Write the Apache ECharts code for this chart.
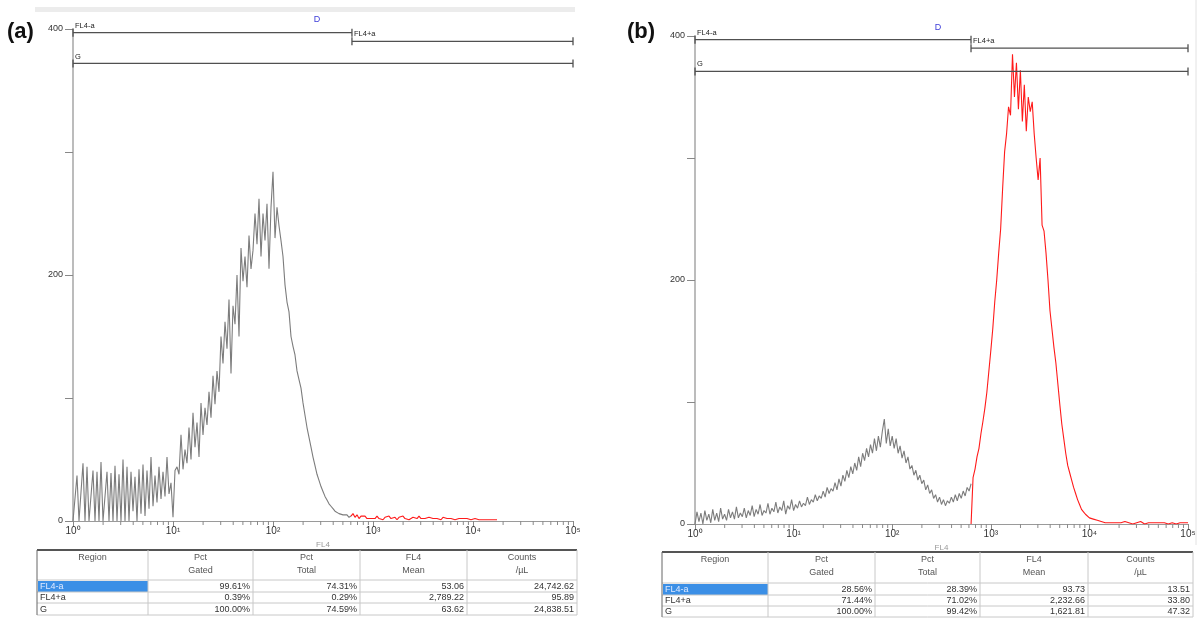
<!DOCTYPE html>
<html><head><meta charset="utf-8">
<script src="https://cdn.jsdelivr.net/npm/echarts@6/dist/echarts.min.js"></script>
<style>html,body{margin:0;padding:0;background:#fff}#c{width:1200px;height:621px}</style>
</head><body><div id="c"></div>
<script>
// ---------- data ----------
const binsPerDecade = 50;            // histogram channels per decade of FL4
const decadeTicks = [1, 10, 100, 1000, 10000, 100000];
const decadeLabels = ['10⁰', '10¹', '10²', '10³', '10⁴', '10⁵'];
const yTicks = [0, 100, 200, 300, 400];

// Panel (a) counts per channel (channel 0 = 10^0)
const grayAStart = 0;
const grayA = [0,0,37,0,0,47,0,44,0,0, 41,0,40,0,48,0,0,40,0,39, 0,45,0,38,0,50,0,44,0,40, 8,36,0,42,6,46,4,41,10,52, 12,37,15,44,18,40,20,52,22,31,
  3,41,44,38,70,42,58,47,76,50, 88,60,80,52,96,70,92,78,105,84, 118,95,122,105,150,128,162,140,180,120, 175,160,200,150,222,195,215,190,232,205, 220,250,225,262,215,250,228,258,205,255,
  284,230,255,240,228,215,192,178,170,150, 142,135,122,115,108,96,86,76,68,60, 52,45,38,33,28,24,20,17,14,12, 10,8,7,6,5,5,4,5,3,4];
const redAStart = 139;
const redA = [4, 6,3,5,2,4,3,4,2,3,2,
  3,2,4,2,3,1,3,2,4,2, 2,3,1,3,2,4,2,3,1,2, 3,2,2,4,2,3,2,1,3,2, 2,3,2,2,1,3,2,2,1,2, 2,1,2,2,1,2,1,2,1,1,
  1,2,1,1,2,1,1,1,2,1,1,1,1];

// Panel (b)
const grayBStart = 0;
const grayB = [0,10,2,9,0,11,3,8,1,12, 3,9,2,13,4,8,3,12,5,10, 4,14,5,9,6,13,5,11,7,15, 6,12,8,16,7,11,9,17,8,13, 10,18,9,14,11,19,8,15,12,20,
  11,16,13,19,14,17,15,22,16,20, 18,24,19,23,21,27,22,30,25,29, 27,34,28,37,31,40,35,44,38,47, 41,50,44,55,47,58,52,62,55,65, 58,70,60,72,63,76,86,66,78,64,
  72,62,70,58,64,54,60,50,55,45, 48,40,44,36,40,33,36,28,32,25, 28,21,24,18,22,16,20,15,19,17, 22,18,24,19,25,21,27,23,30,27, 33];
const redBStart = 140;
const redB = [0,38,45,55,62,74,84,95,108,125,
  142,160,182,200,222,242,275,305,320,342, 335,385,350,378,340,372,330,360,322,350, 338,346,320,300,282,300,245,240,222,200, 175,160,145,132,115,98,82,70,58,48, 42,36,30,25,20,16,12,10,8,7,
  5,5,4,3,3,2,2,2,1,2, 1,1,1,2,1,0,1,1,2,1, 1,1,0,1,1,1,2,1,0,1, 1,1,1,0,1,1,1,2,1,1, 0,1,1,1,0,1,1,1,1,2,1];

// gate regions [name, from, to, level]
const gatesA = [['FL4-a', 1, 616, 397], ['FL4+a', 616, 100000, 390], ['G', 1, 100000, 372]];
const gatesB = [['FL4-a', 1, 630, 397], ['FL4+a', 630, 100000, 390], ['G', 1, 100000, 371]];

// statistics tables
const tableHeader = [['Region'], ['Pct', 'Gated'], ['Pct', 'Total'], ['FL4', 'Mean'], ['Counts', '/µL']];
const rowsA = [['FL4-a', '99.61%', '74.31%', '53.06', '24,742.62'],
               ['FL4+a', '0.39%', '0.29%', '2,789.22', '95.89'],
               ['G', '100.00%', '74.59%', '63.62', '24,838.51']];
const rowsB = [['FL4-a', '28.56%', '28.39%', '93.73', '13.51'],
               ['FL4+a', '71.44%', '71.02%', '2,232.66', '33.80'],
               ['G', '100.00%', '99.42%', '1,621.81', '47.32']];

// ---------- build ----------
const FONT = '"Liberation Sans", Arial, sans-serif';
function toPairs(counts, start) {
  return counts.map((c, i) => [Math.pow(10, (start + i) / binsPerDecade), c]);
}
const minorTicks = [];
for (let d = 0; d < 5; d++) for (let k = 2; k <= 9; k++) minorTicks.push([k * Math.pow(10, d), 0]);

function xAxisCfg(gi) {
  return {
    type: 'log', logBase: 10, min: 1, max: 100000, gridIndex: gi, splitNumber: 5,
    axisLine: { lineStyle: { color: '#9a9a9a', width: 1 } },
    axisTick: { length: 6, lineStyle: { color: '#888' } },
    axisLabel: {
      margin: 5, showMinLabel: true, showMaxLabel: true, fontSize: 10, color: '#333', fontFamily: FONT,
      formatter: v => decadeLabels[decadeTicks.indexOf(Math.round(v))] || ''
    },
    splitLine: { show: false },
    name: 'FL4', nameLocation: 'middle', nameGap: 17,
    nameTextStyle: { fontSize: 8, color: '#999', fontFamily: FONT }
  };
}
function yAxisCfg(gi) {
  return {
    type: 'value', min: 0, max: 400, interval: 100, gridIndex: gi,
    axisLine: { show: true, lineStyle: { color: '#bcbcbc', width: 2 } },
    axisTick: { show: true, length: 8, lineStyle: { color: '#888' } },
    axisLabel: { margin: 10, fontSize: 9, color: '#333', fontFamily: FONT,
      formatter: v => (v % 200 === 0 ? String(v) : '') },
    splitLine: { show: false }
  };
}
function histSeries(gi, counts, start, color) {
  return { type: 'line', xAxisIndex: gi, yAxisIndex: gi, data: toPairs(counts, start),
    showSymbol: false, symbol: 'none', lineStyle: { color: color, width: 1.1 }, silent: true, z: 3 };
}
function tickSeries(gi) {
  return { type: 'custom', xAxisIndex: gi, yAxisIndex: gi, data: minorTicks, clip: false, silent: true,
    renderItem: (params, api) => {
      const p = api.coord([api.value(0), 0]);
      return { type: 'line', shape: { x1: p[0], y1: p[1], x2: p[0], y2: p[1] + 4 },
        style: { stroke: '#8a8a8a', lineWidth: 1 } };
    } };
}
function gateSeries(gi, gates) {
  return { type: 'custom', xAxisIndex: gi, yAxisIndex: gi, clip: false, silent: true, z: 4,
    data: gates.map(g => [g[1], g[3], g[2]]),
    renderItem: (params, api) => {
      const g = gates[params.dataIndex];
      const a = api.coord([g[1], g[3]]);
      const b = api.coord([g[2], g[3]]);
      const st = { stroke: '#505050', lineWidth: 1.3 };
      return { type: 'group', children: [
        { type: 'line', shape: { x1: a[0], y1: a[1], x2: b[0], y2: b[1] }, style: st },
        { type: 'line', shape: { x1: a[0], y1: a[1] - 4, x2: a[0], y2: a[1] + 4 }, style: st },
        { type: 'line', shape: { x1: b[0], y1: b[1] - 4, x2: b[0], y2: b[1] + 4 }, style: st },
        { type: 'text', x: a[0] + 2, y: a[1] - 3,
          style: { text: g[0], fill: '#222', fontSize: 7.5, fontFamily: FONT, verticalAlign: 'bottom', align: 'left' } }
      ] };
    } };
}
function tableGraphics(cols, top, hb, rows, data) {
  const els = [];
  const L = cols[0], R = cols[cols.length - 1], B = rows[rows.length - 1];
  els.push({ type: 'rect', shape: { x: L + 1, y: hb + 1, width: cols[1] - L - 1, height: rows[0] - hb - 1 },
    style: { fill: '#3b8fe6' } });
  els.push({ type: 'line', shape: { x1: L, y1: top, x2: R, y2: top }, style: { stroke: '#555', lineWidth: 2 } });
  [hb].concat(rows).forEach(y => els.push({ type: 'line', shape: { x1: L, y1: y, x2: R, y2: y },
    style: { stroke: '#c8c8c8', lineWidth: 1 } }));
  cols.forEach((x, i) => els.push({ type: 'line', shape: { x1: x, y1: top, x2: x, y2: B },
    style: { stroke: i === 0 ? '#666' : '#c8c8c8', lineWidth: 1 } }));
  tableHeader.forEach((h, i) => {
    const cx = (cols[i] + cols[i + 1]) / 2;
    h.forEach((t, j) => els.push({ type: 'text', x: cx, y: top + 8 + j * 13,
      style: { text: t, fill: '#555', fontSize: 9, fontFamily: FONT, align: 'center', verticalAlign: 'middle' } }));
  });
  data.forEach((r, ri) => {
    const y0 = ri === 0 ? hb : rows[ri - 1];
    const cy = (y0 + rows[ri]) / 2 + 0.5;
    r.forEach((t, ci) => {
      const left = ci === 0;
      els.push({ type: 'text', x: left ? cols[0] + 3 : cols[ci + 1] - 3, y: cy,
        style: { text: t, fill: (ri === 0 && ci === 0) ? '#dfe9ff' : '#333', fontSize: 9, fontFamily: FONT,
          align: left ? 'left' : 'right', verticalAlign: 'middle' } });
    });
  });
  return els;
}

const graphics = [
  { type: 'rect', shape: { x: 35, y: 7, width: 540, height: 5 }, style: { fill: '#ececec' } },
  { type: 'line', shape: { x1: 1196, y1: 0, x2: 1196, y2: 545 }, style: { stroke: '#e2e2e2', lineWidth: 1 } },
  { type: 'text', x: 7, y: 32, style: { text: '(a)', fill: '#111', fontSize: 22, fontWeight: 'bold', fontFamily: FONT, verticalAlign: 'middle' } },
  { type: 'text', x: 627, y: 32, style: { text: '(b)', fill: '#111', fontSize: 22, fontWeight: 'bold', fontFamily: FONT, verticalAlign: 'middle' } },
  { type: 'text', x: 317, y: 20, style: { text: 'D', fill: '#3c3cd8', fontSize: 9, fontFamily: FONT, align: 'center', verticalAlign: 'middle' } },
  { type: 'text', x: 938, y: 28, style: { text: 'D', fill: '#3c3cd8', fontSize: 9, fontFamily: FONT, align: 'center', verticalAlign: 'middle' } }
].concat(
  tableGraphics([37, 148, 253, 360, 467, 577], 550, 580, [592, 603, 615], rowsA),
  tableGraphics([662, 768, 875, 980, 1088, 1193], 552, 583, [595, 606, 617], rowsB)
);

const chart = echarts.init(document.getElementById('c'), null, { renderer: 'canvas' });
chart.setOption({
  animation: false,
  backgroundColor: '#fff',
  grid: [
    { left: 73, top: 29, width: 500, height: 492 },
    { left: 695, top: 36, width: 493, height: 488 }
  ],
  xAxis: [xAxisCfg(0), xAxisCfg(1)],
  yAxis: [yAxisCfg(0), yAxisCfg(1)],
  series: [
    histSeries(0, grayA, grayAStart, '#7c7c7c'),
    histSeries(0, redA, redAStart, '#ff1a1a'),
    histSeries(1, grayB, grayBStart, '#7c7c7c'),
    histSeries(1, redB, redBStart, '#ff1a1a'),
    tickSeries(0), tickSeries(1),
    gateSeries(0, gatesA), gateSeries(1, gatesB)
  ],
  graphic: graphics
});
</script></body></html>
